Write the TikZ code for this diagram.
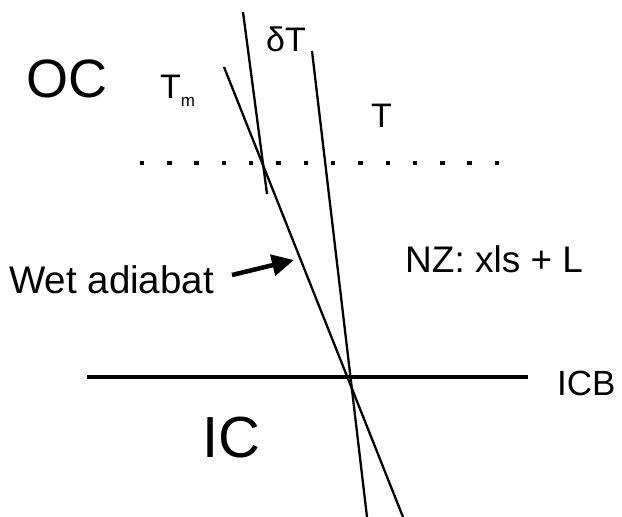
\documentclass[tikz,border=0pt]{standalone}
\usepackage{fontspec}
\setmainfont{Liberation Sans}
\usetikzlibrary{arrows.meta}
\tikzset{
  lbl/.style={inner sep=0pt, anchor=base west},
  thinline/.style={line width=2.3pt},
  thickline/.style={line width=4.3pt},
  pointer/.style={line width=4.5pt, -{Triangle[length=22pt,width=21pt]}},
  dot/.style={fill=black}
}
\begin{document}
\begin{tikzpicture}[x=1pt,y=-1pt]
\useasboundingbox (0,0) rectangle (622,517);
% labels
\node[lbl, font=\fontsize{54}{54}\selectfont] (oc) at (26,97) {OC};
\node[lbl, font=\fontsize{58}{58}\selectfont] (ic) at (202.5,457) {IC};
\node[lbl, font=\fontsize{34}{34}\selectfont] (tm) at (160,98) {T\raisebox{-8pt}{\fontsize{17}{17}\selectfont m}};
\node[lbl, font=\fontsize{34}{34}\selectfont] (dt) at (266,51) {δT};
\node[lbl, font=\fontsize{34}{34}\selectfont] (t) at (371,127) {T};
\node[lbl, font=\fontsize{38.5}{38.5}\selectfont] (wet) at (9,293) {Wet adiabat};
\node[lbl, font=\fontsize{37}{37}\selectfont] (nz) at (405,272) {NZ: xls + L};
\node[lbl, font=\fontsize{35}{35}\selectfont] (icb) at (557,395) {ICB};
% line end points
\coordinate (a1) at (243,12);
\coordinate (a2) at (267,194);
\coordinate (m1) at (224,67);
\coordinate (m2) at (403,517);
\coordinate (t1) at (312,51);
\coordinate (t2) at (367,517);
\coordinate (b1) at (87,377);
\coordinate (b2) at (528,377);
\coordinate (p1) at (232,275);
\coordinate (p2) at (294,260);
% lines
\draw[thinline] (a1) -- (a2);
\draw[thinline] (m1) -- (m2);
\draw[thinline] (t1) -- (t2);
\draw[thickline] (b1) -- (b2);
\draw[pointer] (p1) -- (p2);
% dotted line
\foreach \i in {0,...,13} {
  \fill[dot] ({142+\i*27.3-2.2},160.8) rectangle ++(4.4,4.4);
}
\end{tikzpicture}
\end{document}
